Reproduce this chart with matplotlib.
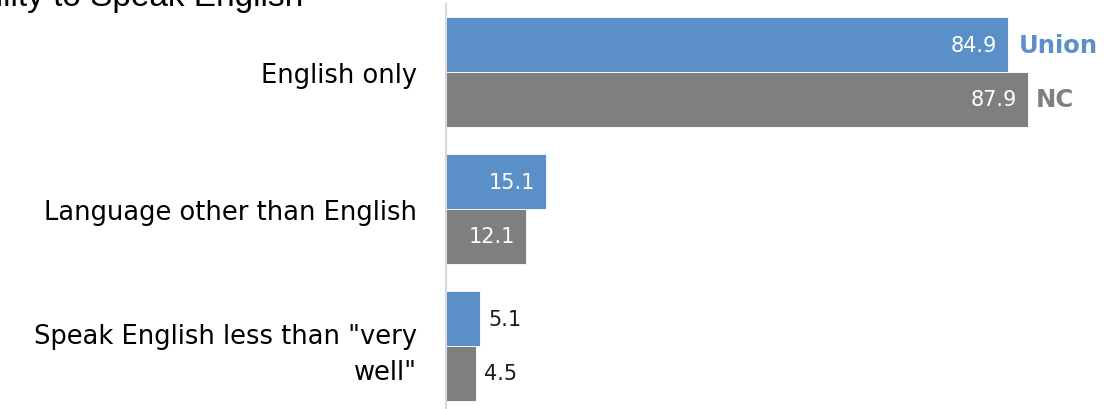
import matplotlib.pyplot as plt
import numpy as np

categories = ["English only", "Language other than English", "Speak English less than \"very\nwell\""]
union_vals = [84.9, 15.1, 5.1]
nc_vals = [87.9, 12.1, 4.5]

BLUE = "#5b8fc7"
GRAY = "#7f7f7f"

fig = plt.figure(figsize=(11.13, 4.10), dpi=100)
ax = fig.add_axes([446 / 1113, 0, 1 - 446 / 1113, 405 / 410])

y = np.arange(len(categories))
h = 0.4
ax.barh(y - h / 2, union_vals, height=h, color=BLUE, edgecolor="white", linewidth=0.6)
ax.barh(y + h / 2, nc_vals, height=h, color=GRAY, edgecolor="white", linewidth=0.6)

ax.set_xlim(0, 100.8)
ax.set_ylim(2.46, -0.496)

for spine in ["top", "right", "bottom"]:
    ax.spines[spine].set_visible(False)
ax.spines["left"].set_color("#d9d9d9")
ax.spines["left"].set_linewidth(1.5)
ax.set_xticks([])
ax.set_yticks(y)
ax.set_yticklabels(categories, fontsize=18.5, family="DejaVu Sans", ha="right",
                   linespacing=1.5)
ax.tick_params(axis="y", length=0, pad=21)
# pull the wrapped label up a little so its two lines sit around the group
ax.get_yticklabels()[2].set_y(2 - 0.04)

# values: inside the long bars, outside the short ones
for vals, offs in [(union_vals, -h / 2), (nc_vals, h / 2)]:
    for i, v in enumerate(vals):
        if v > 10:
            ax.annotate(f"{v}", (v, i + offs), xytext=(-8, 0), textcoords="offset points",
                        ha="right", va="center", color="white", fontsize=15)
        else:
            ax.annotate(f"{v}", (v, i + offs), xytext=(6, 0), textcoords="offset points",
                        ha="left", va="center", color="#1a1a1a", fontsize=15)

# series names next to the first group
ax.annotate("Union", (union_vals[0], -h / 2), xytext=(8, 0), textcoords="offset points",
            ha="left", va="center", color=BLUE, fontsize=17.5, fontweight="bold")
ax.annotate("NC", (nc_vals[0], h / 2), xytext=(6, 0), textcoords="offset points",
            ha="left", va="center", color=GRAY, fontsize=17.5, fontweight="bold")

fig.text(303 / 1113, 1 - 6 / 410, "Ability to Speak English", ha="right", va="baseline",
         fontsize=24, family="Liberation Sans")

fig.savefig("out.png", dpi=100)
